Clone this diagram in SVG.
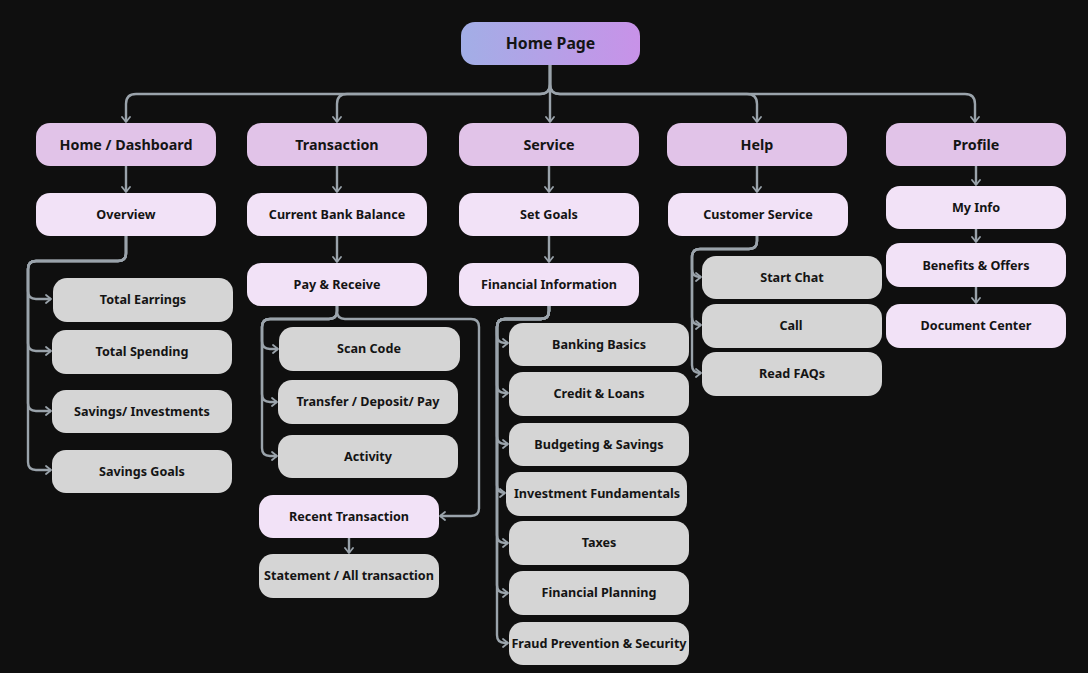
<svg xmlns="http://www.w3.org/2000/svg" width="1088" height="673" viewBox="0 0 1088 673">
<defs>
<linearGradient id="hg" x1="0" y1="0" x2="1" y2="0">
<stop offset="0" stop-color="#a2aee6"/>
<stop offset="1" stop-color="#c892e8"/>
</linearGradient>
<marker id="ah" markerUnits="userSpaceOnUse" markerWidth="12" markerHeight="12" refX="6" refY="5" orient="auto">
<path d="M1,1 L6,5 L1,9" fill="none" stroke="#9aa3ab" stroke-width="1.8" stroke-linecap="round" stroke-linejoin="round"/>
</marker>
<style>
.c{fill:none;stroke:#9aa3ab;stroke-width:2.4;marker-end:url(#ah)}
.l1{fill:#e1c3e8}
.l2{fill:#f2e2f7}
.g{fill:#d5d5d5}
text{font-family:"Noto Sans","Liberation Sans",sans-serif;font-weight:700;fill:#141414;text-anchor:middle;dominant-baseline:central;transform:translateY(-1px)}
.t1{font-size:14.3px}
.t2{font-size:12.6px}
</style>
</defs>
<rect width="1088" height="673" fill="#0f0f0f"/>
<g id="connectors">
<path class="c" d="M550,65 V84 Q550,94 540,94 H136 Q126,94 126,104 V122"/>
<path class="c" d="M550,65 V84 Q550,94 540,94 H347 Q337,94 337,104 V122"/>
<path class="c" d="M550,65 V122"/>
<path class="c" d="M550,65 V84 Q550,94 560,94 H747 Q757,94 757,104 V122"/>
<path class="c" d="M550,65 V84 Q550,94 560,94 H965 Q975,94 975,104 V122"/>
<path class="c" d="M126,166 V192"/>
<path class="c" d="M337,166 V192"/>
<path class="c" d="M549,166 V192"/>
<path class="c" d="M757,166 V192"/>
<path class="c" d="M976,166 V185"/>
<path class="c" d="M976,229 V242"/>
<path class="c" d="M976,287 V303"/>
<path class="c" d="M337,236 V262"/>
<path class="c" d="M549,236 V262"/>
<path class="c" d="M126,236 V253 Q126,261 118,261 H36 Q28,261 28,269 V291 Q28,299 36,299 H51"/>
<path class="c" d="M126,236 V253 Q126,261 118,261 H36 Q28,261 28,269 V343 Q28,351 36,351 H51"/>
<path class="c" d="M126,236 V253 Q126,261 118,261 H36 Q28,261 28,269 V403 Q28,411 36,411 H51"/>
<path class="c" d="M126,236 V253 Q126,261 118,261 H36 Q28,261 28,269 V462 Q28,470 36,470 H51"/>
<path class="c" d="M337,306 V311 Q337,319 329,319 H270 Q262,319 262,327 V341 Q262,349 270,349 H278"/>
<path class="c" d="M337,306 V311 Q337,319 329,319 H270 Q262,319 262,327 V394 Q262,402 270,402 H277"/>
<path class="c" d="M337,306 V311 Q337,319 329,319 H270 Q262,319 262,327 V448 Q262,456 270,456 H277"/>
<path class="c" d="M337,306 V311 Q337,319 345,319 H471 Q479,319 479,327 V508 Q479,516 471,516 H440"/>
<path class="c" d="M349,538 V553"/>
<path class="c" d="M549,306 V311 Q549,319 541,319 H505 Q497,319 497,327 V335 Q497,343 505,343 H508"/>
<path class="c" d="M549,306 V311 Q549,319 541,319 H505 Q497,319 497,327 V385 Q497,393 505,393 H508"/>
<path class="c" d="M549,306 V311 Q549,319 541,319 H505 Q497,319 497,327 V436 Q497,444 505,444 H508"/>
<path class="c" d="M549,306 V311 Q549,319 541,319 H505 Q497,319 497,327 V485 Q497,493 505,493 H505"/>
<path class="c" d="M549,306 V311 Q549,319 541,319 H505 Q497,319 497,327 V535 Q497,543 505,543 H508"/>
<path class="c" d="M549,306 V311 Q549,319 541,319 H505 Q497,319 497,327 V585 Q497,593 505,593 H508"/>
<path class="c" d="M549,306 V311 Q549,319 541,319 H505 Q497,319 497,327 V635 Q497,643 505,643 H508"/>
<path class="c" d="M757,236 V241 Q757,249 749,249 H700 Q692,249 692,257 V269 Q692,277 700,277 H701"/>
<path class="c" d="M757,236 V241 Q757,249 749,249 H700 Q692,249 692,257 V317 Q692,325 700,325 H701"/>
<path class="c" d="M757,236 V241 Q757,249 749,249 H700 Q692,249 692,257 V365 Q692,373 700,373 H701"/>
</g>
<g id="home-page"><rect x="461" y="22" width="179" height="43" rx="14" fill="url(#hg)"/><text x="550.5" y="44" style="font-size:15.8px">Home Page</text></g>
<g id="home-dashboard"><rect class="l1" x="36" y="123" width="180" height="43" rx="14"/><text class="t1" x="126" y="145">Home / Dashboard</text></g>
<g id="transaction"><rect class="l1" x="247" y="123" width="180" height="43" rx="14"/><text class="t1" x="337" y="145">Transaction</text></g>
<g id="service"><rect class="l1" x="459" y="123" width="180" height="43" rx="14"/><text class="t1" x="549" y="145">Service</text></g>
<g id="help"><rect class="l1" x="667" y="123" width="180" height="43" rx="14"/><text class="t1" x="757" y="145">Help</text></g>
<g id="profile"><rect class="l1" x="886" y="123" width="180" height="43" rx="14"/><text class="t1" x="976" y="145">Profile</text></g>
<g id="overview"><rect class="l2" x="36" y="193" width="180" height="43" rx="14"/><text class="t2" x="126" y="215">Overview</text></g>
<g id="current-bank-balance"><rect class="l2" x="247" y="193" width="180" height="43" rx="14"/><text class="t2" x="337" y="215">Current Bank Balance</text></g>
<g id="set-goals"><rect class="l2" x="459" y="193" width="180" height="43" rx="14"/><text class="t2" x="549" y="215">Set Goals</text></g>
<g id="customer-service"><rect class="l2" x="668" y="193" width="180" height="43" rx="14"/><text class="t2" x="758" y="215">Customer Service</text></g>
<g id="my-info"><rect class="l2" x="886" y="186" width="180" height="43" rx="14"/><text class="t2" x="976" y="208">My Info</text></g>
<g id="benefits-offers"><rect class="l2" x="886" y="243" width="180" height="44" rx="14"/><text class="t2" x="976" y="266">Benefits &amp; Offers</text></g>
<g id="document-center"><rect class="l2" x="886" y="304" width="180" height="44" rx="14"/><text class="t2" x="976" y="326">Document Center</text></g>
<g id="pay-receive"><rect class="l2" x="247" y="263" width="180" height="43" rx="14"/><text class="t2" x="337" y="285">Pay &amp; Receive</text></g>
<g id="financial-information"><rect class="l2" x="459" y="263" width="180" height="43" rx="14"/><text class="t2" x="549" y="285">Financial Information</text></g>
<g id="recent-transaction"><rect class="l2" x="259" y="495" width="180" height="43" rx="14"/><text class="t2" x="349" y="517">Recent Transaction</text></g>
<g id="total-earrings"><rect class="g" x="53" y="278" width="180" height="44" rx="14"/><text class="t2" x="143" y="300">Total Earrings</text></g>
<g id="total-spending"><rect class="g" x="52" y="330" width="180" height="44" rx="14"/><text class="t2" x="142" y="352">Total Spending</text></g>
<g id="savings-investments"><rect class="g" x="52" y="390" width="180" height="43" rx="14"/><text class="t2" x="142" y="412">Savings/ Investments</text></g>
<g id="savings-goals"><rect class="g" x="52" y="450" width="180" height="43" rx="14"/><text class="t2" x="142" y="472">Savings Goals</text></g>
<g id="scan-code"><rect class="g" x="279" y="327" width="181" height="44" rx="14"/><text class="t2" x="369" y="349">Scan Code</text></g>
<g id="transfer-deposit-pay"><rect class="g" x="278" y="380" width="180" height="44" rx="14"/><text class="t2" x="368" y="402">Transfer / Deposit/ Pay</text></g>
<g id="activity"><rect class="g" x="278" y="435" width="180" height="43" rx="14"/><text class="t2" x="368" y="457">Activity</text></g>
<g id="statement"><rect class="g" x="259" y="554" width="180" height="44" rx="14"/><text class="t2" x="349" y="576">Statement / All transaction</text></g>
<g id="banking-basics"><rect class="g" x="509" y="323" width="180" height="43" rx="14"/><text class="t2" x="599" y="345">Banking Basics</text></g>
<g id="credit-loans"><rect class="g" x="509" y="372" width="180" height="44" rx="14"/><text class="t2" x="599" y="394">Credit &amp; Loans</text></g>
<g id="budgeting-savings"><rect class="g" x="509" y="423" width="180" height="43" rx="14"/><text class="t2" x="599" y="445">Budgeting &amp; Savings</text></g>
<g id="investment-fundamentals"><rect class="g" x="506" y="472" width="181" height="44" rx="14"/><text class="t2" x="597" y="494">Investment Fundamentals</text></g>
<g id="taxes"><rect class="g" x="509" y="521" width="180" height="44" rx="14"/><text class="t2" x="599" y="543">Taxes</text></g>
<g id="financial-planning"><rect class="g" x="509" y="571" width="180" height="44" rx="14"/><text class="t2" x="599" y="593">Financial Planning</text></g>
<g id="fraud-prevention"><rect class="g" x="509" y="622" width="180" height="43" rx="14"/><text class="t2" x="599" y="644">Fraud Prevention &amp; Security</text></g>
<g id="start-chat"><rect class="g" x="702" y="256" width="180" height="43" rx="14"/><text class="t2" x="792" y="278">Start Chat</text></g>
<g id="call"><rect class="g" x="702" y="304" width="180" height="44" rx="14"/><text class="t2" x="791" y="326">Call</text></g>
<g id="read-faqs"><rect class="g" x="702" y="352" width="180" height="44" rx="14"/><text class="t2" x="792" y="374">Read FAQs</text></g>
</svg>
